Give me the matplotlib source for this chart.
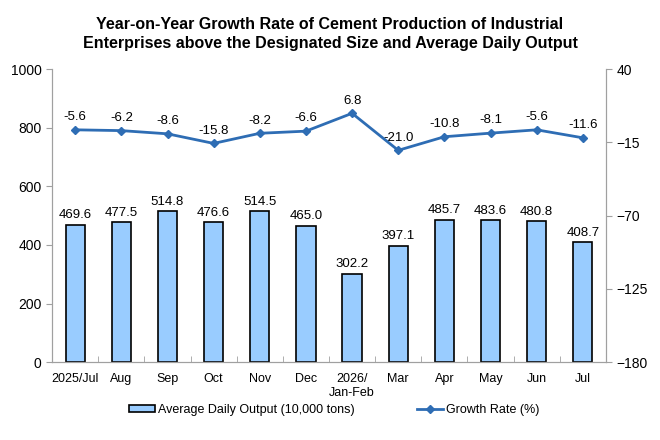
import matplotlib.pyplot as plt
import numpy as np

plt.rcParams['font.family'] = ['Liberation Sans', 'DejaVu Sans']

months = ['2025/Jul', 'Aug', 'Sep', 'Oct', 'Nov', 'Dec', '2026/\nJan-Feb',
          'Mar', 'Apr', 'May', 'Jun', 'Jul']
output = [469.6, 477.5, 514.8, 476.6, 514.5, 465.0, 302.2, 397.1, 485.7,
          483.6, 480.8, 408.7]
growth = [-5.6, -6.2, -8.6, -15.8, -8.2, -6.6, 6.8, -21.0, -10.8, -8.1,
          -5.6, -11.6]

x = np.arange(len(months))
fig = plt.figure(figsize=(6.6, 4.4), dpi=100)
ax = fig.add_axes([0.079, 0.177, 0.839, 0.666])
ax2 = ax.twinx()

ax.bar(x, output, width=0.42, color='#99CCFF', edgecolor='black',
       linewidth=1.2, label='Average Daily Output (10,000 tons)', zorder=2)
for xi, v in zip(x, output):
    ax.text(xi, v + 12, f'{v:.1f}', ha='center', va='bottom', fontsize=9.5)

ax2.plot(x, growth, color='#2E6DB4', linewidth=2, marker='D', markersize=4,
         label='Growth Rate (%)')
for xi, v in zip(x, growth):
    ax2.text(xi, v + 5, f'{v:.1f}', ha='center', va='bottom', fontsize=9.5)

ax.set_xlim(-0.5, len(months) - 0.5)
ax.set_ylim(0, 1000)
ax.set_yticks([0, 200, 400, 600, 800, 1000])
ax2.set_ylim(-180, 40)
ax2.set_yticks([-180, -125, -70, -15, 40])

ax.set_xticks(x)
ax.set_xticklabels(months, fontsize=9)
ax.set_xticks(np.arange(-0.5, len(months), 1), minor=True)
ax.tick_params(axis='x', which='major', length=0, pad=8)
ax.tick_params(axis='x', which='minor', direction='in', length=4, color='#A0A0A0')
ax.tick_params(axis='y', labelsize=10, length=4, color='#A0A0A0')
ax2.tick_params(axis='y', labelsize=10, length=4, color='#A0A0A0')

for a in (ax, ax2):
    a.spines['top'].set_visible(False)
    for s in ('left', 'right', 'bottom'):
        a.spines[s].set_color('#A0A0A0')

fig.suptitle('Year-on-Year Growth Rate of Cement Production of Industrial\n'
             'Enterprises above the Designated Size and Average Daily Output',
             fontsize=11.5, fontweight='bold', y=0.962, linespacing=1.35)

h1, l1 = ax.get_legend_handles_labels()
h2, l2 = ax2.get_legend_handles_labels()
fig.legend(h1 + h2, l1 + l2, loc='center', bbox_to_anchor=(0.506, 0.068),
           ncol=2, frameon=False, fontsize=9, columnspacing=5,
           handlelength=2.1, handleheight=0.5, handletextpad=0.2)

fig.savefig('out.png', dpi=100)
